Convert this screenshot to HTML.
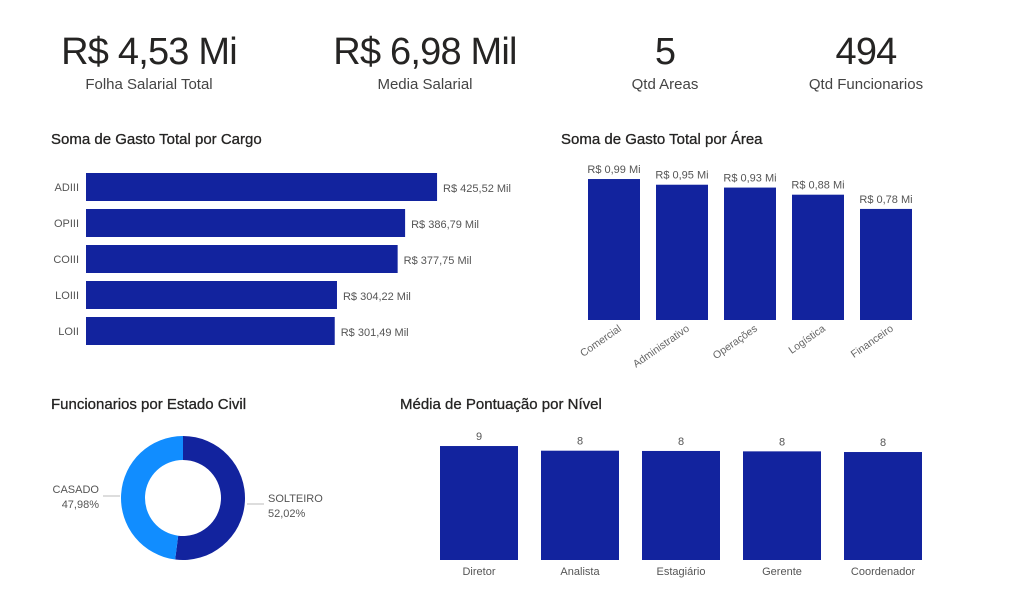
<!DOCTYPE html>
<html><head><meta charset="utf-8"><style>
body{margin:0;width:1025px;height:600px;background:#fff;font-family:"Liberation Sans","DejaVu Sans",sans-serif;overflow:hidden;position:relative}
.kpi{position:absolute;text-align:center;width:220px}
.kpi .v{font-size:38px;color:#252423;line-height:44px;letter-spacing:-0.8px}
.kpi .l{font-size:15px;color:#444;margin-top:2px}
.title{position:absolute;font-size:15px;color:#252423;font-weight:normal;-webkit-text-stroke:0.3px #252423}
svg{position:absolute;left:0;top:0}
</style></head><body>
<div class="kpi" style="left:39px;top:30px"><div class="v">R$ 4,53 Mi</div><div class="l">Folha Salarial Total</div></div>
<div class="kpi" style="left:315px;top:30px"><div class="v">R$ 6,98 Mil</div><div class="l">Media Salarial</div></div>
<div class="kpi" style="left:555px;top:30px"><div class="v">5</div><div class="l">Qtd Areas</div></div>
<div class="kpi" style="left:756px;top:30px"><div class="v">494</div><div class="l">Qtd Funcionarios</div></div>
<div class="title" style="left:51px;top:131px">Soma de Gasto Total por Cargo</div>
<div class="title" style="left:561px;top:131px">Soma de Gasto Total por Área</div>
<div class="title" style="left:51px;top:396px">Funcionarios por Estado Civil</div>
<div class="title" style="left:400px;top:396px">Média de Pontuação por Nível</div>
<svg id="s" width="1025" height="600" font-family="Liberation Sans, sans-serif"></svg>
<script>
const cargoCats=["ADIII","OPIII","COIII","LOIII","LOII"];
const cargoVals=[425.52,386.79,377.75,304.22,301.49];
const areaCats=["Comercial","Administrativo","Operações","Logística","Financeiro"];
const areaVals=[0.99,0.95,0.93,0.88,0.78];
const civilCats=["CASADO","SOLTEIRO"];
const civilVals=[47.98,52.02];
const nivelCats=["Diretor","Analista","Estagiário","Gerente","Coordenador"];
const nivelVals=[8.55,8.2,8.18,8.15,8.1];

const s=document.getElementById('s');const NS="http://www.w3.org/2000/svg";
function mk(t,a,txt){const e=document.createElementNS(NS,t);for(const k in a)e.setAttribute(k,a[k]);if(txt!==undefined)e.textContent=txt;s.appendChild(e);return e;}
const fmt=(v,d)=>v.toFixed(d).replace('.',',');
const blue="#12239e";
const cx=v=>86+v*0.825;
cargoCats.forEach((c,i)=>{const y=173+i*36;
let r=mk('rect',{x:86,y:y,width:cx(cargoVals[i])-86,height:28,fill:blue});

let t=mk('text',{x:79,y:y+18,'text-anchor':'end','font-size':11,fill:'#555'},c);

let v=mk('text',{x:cx(cargoVals[i])+6,y:y+19,'font-size':11,fill:'#555'},'R$ '+fmt(cargoVals[i],2)+' Mil');
});
const ay=v=>320-v*142.4;
areaCats.forEach((c,i)=>{const x=588+i*68;
let r=mk('rect',{x:x,y:ay(areaVals[i]),width:52,height:320-ay(areaVals[i]),fill:blue});

let v=mk('text',{x:x+26,y:ay(areaVals[i])-6,'text-anchor':'middle','font-size':11,fill:'#555'},'R$ '+fmt(areaVals[i],2)+' Mi');

let t=mk('text',{x:x+34,y:330,'text-anchor':'end','font-size':10.5,fill:'#666',transform:`rotate(-35 ${x+34} 330)`},c);
});
const dcx=183,dcy=498,R=62,r0=38;const tot=civilVals.reduce((a,b)=>a+b,0);
let start=0;const cols=["#118dff",blue];
const order=[1,0];
order.forEach(k=>{const a0=start,a1=start+civilVals[k]/tot*2*Math.PI;start=a1;
const p=(a,rr)=>[dcx+rr*Math.sin(a),dcy-rr*Math.cos(a)];
const [x0,y0]=p(a0,R),[x1,y1]=p(a1,R),[x2,y2]=p(a1,r0),[x3,y3]=p(a0,r0);const lg=a1-a0>Math.PI?1:0;
let e=mk('path',{d:`M${x0},${y0}A${R},${R} 0 ${lg} 1 ${x1},${y1}L${x2},${y2}A${r0},${r0} 0 ${lg} 0 ${x3},${y3}Z`,fill:cols[k]});
});
mk('line',{x1:103,y1:496,x2:120,y2:496,stroke:'#bbb'});mk('line',{x1:247,y1:504,x2:264,y2:504,stroke:'#bbb'});
let l1=mk('text',{x:99,y:493,'text-anchor':'end','font-size':11,fill:'#555'},civilCats[0]);
let l2=mk('text',{x:99,y:508,'text-anchor':'end','font-size':11,fill:'#555'},fmt(civilVals[0],2)+'%');
let l3=mk('text',{x:268,y:502,'font-size':11,fill:'#555'},civilCats[1]);
let l4=mk('text',{x:268,y:517,'font-size':11,fill:'#555'},fmt(civilVals[1],2)+'%');
const ny=v=>560-v*13.33;
nivelCats.forEach((c,i)=>{const x=440+i*101;
let r=mk('rect',{x:x,y:ny(nivelVals[i]),width:78,height:560-ny(nivelVals[i]),fill:blue});

let v=mk('text',{x:x+39,y:ny(nivelVals[i])-6,'text-anchor':'middle','font-size':11,fill:'#555'},String(Math.round(nivelVals[i])));

let t=mk('text',{x:x+39,y:575,'text-anchor':'middle','font-size':11,fill:'#555'},c);
});
</script>
</body></html>
